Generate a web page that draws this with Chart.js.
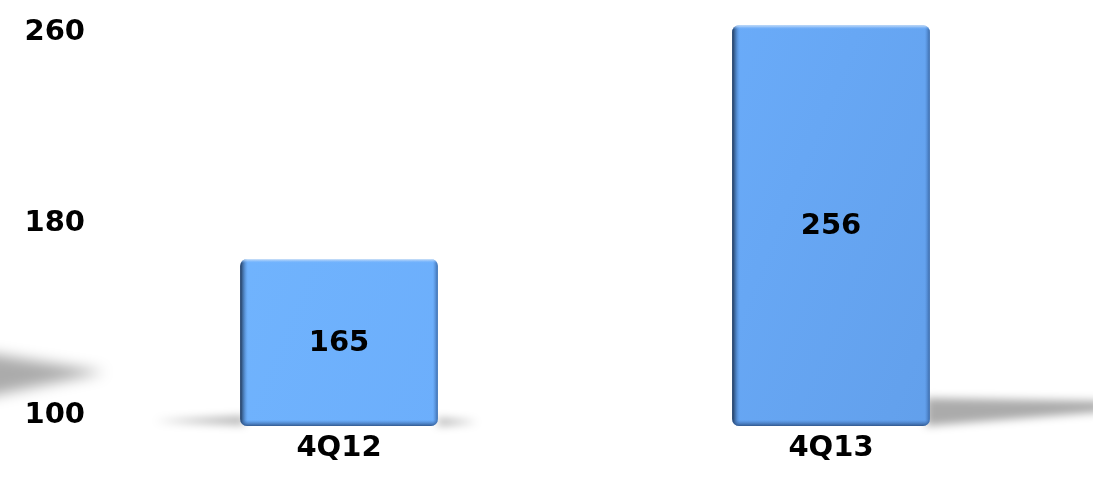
<!DOCTYPE html>
<html>
<head>
<meta charset="utf-8">
<title>4Q12 vs 4Q13</title>
<script src="https://cdn.jsdelivr.net/npm/chart.js@4/dist/chart.umd.min.js"></script>
<style>
  html, body { margin: 0; padding: 0; background: #fff; }
  #wrap { width: 1093px; height: 482px; }
</style>
</head>
<body>
<div id="wrap"><canvas id="chart" width="1093" height="482"></canvas></div>
<script>
// quarter totals
const quarters = ['4Q12', '4Q13']
const totals = [165, 256]
const tickValues = [100, 180, 260]

const FONT = 'bold 29px "DejaVu Sans"'

// floor shadow for each bar: which side it falls on and how far
const shadowSide = [-1, 1]
const shadowLen = [90, 175]

const barShadows = {
  id: 'barShadows',
  beforeDatasetsDraw(chart) {
    const ctx = chart.ctx
    ctx.save()

    // soft shadow coming in from the left edge
    ctx.filter = 'blur(7px)'
    ctx.fillStyle = 'rgba(0,0,0,0.33)'
    ctx.beginPath()
    ctx.moveTo(-20, 352)
    ctx.lineTo(105, 372)
    ctx.lineTo(-20, 398)
    ctx.closePath()
    ctx.fill()

    const meta = chart.getDatasetMeta(0)
    meta.data.forEach((bar, i) => {
      const half = bar.width / 2
      const base = bar.base
      ctx.filter = 'blur(4px)'
      ctx.beginPath()
      if (shadowSide[i] > 0) {
        const r = bar.x + half - 4
        ctx.fillStyle = 'rgba(0,0,0,0.33)'
        ctx.moveTo(r, base - 28)
        ctx.lineTo(r + shadowLen[i], base - 25)
        ctx.lineTo(r + shadowLen[i], base - 14)
        ctx.lineTo(r, base)
      } else {
        const l = bar.x - half + 4
        ctx.fillStyle = 'rgba(0,0,0,0.3)'
        ctx.moveTo(l, base - 10)
        ctx.lineTo(l - shadowLen[i], base - 5)
        ctx.lineTo(l, base - 1)
        // faint trail on the other side
        ctx.moveTo(bar.x + half, base - 8)
        ctx.lineTo(bar.x + half + 40, base - 4)
        ctx.lineTo(bar.x + half, base)
      }
      ctx.closePath()
      ctx.fill()
    })
    ctx.restore()
  }
}

// darker edges to give the bars a bit of depth
const barEdges = {
  id: 'barEdges',
  afterDatasetsDraw(chart) {
    const ctx = chart.ctx
    const meta = chart.getDatasetMeta(0)
    meta.data.forEach((bar) => {
      const l = bar.x - bar.width / 2
      const w = bar.width
      const t = bar.y
      const h = bar.base - bar.y
      ctx.save()
      ctx.beginPath()
      ctx.roundRect(l, t, w, h, 7)
      ctx.clip()

      let g = ctx.createLinearGradient(l, 0, l + 8, 0)
      g.addColorStop(0, 'rgba(20,35,60,0.9)')
      g.addColorStop(0.45, 'rgba(40,75,120,0.5)')
      g.addColorStop(1, 'rgba(80,140,220,0)')
      ctx.fillStyle = g
      ctx.fillRect(l, t, 8, h)

      g = ctx.createLinearGradient(l + w - 5, 0, l + w, 0)
      g.addColorStop(0, 'rgba(60,110,180,0)')
      g.addColorStop(1, 'rgba(45,85,140,0.75)')
      ctx.fillStyle = g
      ctx.fillRect(l + w - 5, t, 5, h)

      g = ctx.createLinearGradient(0, t + h - 6, 0, t + h)
      g.addColorStop(0, 'rgba(60,110,180,0)')
      g.addColorStop(1, 'rgba(40,75,125,0.85)')
      ctx.fillStyle = g
      ctx.fillRect(l, t + h - 6, w, 6)

      g = ctx.createLinearGradient(0, t, 0, t + 4)
      g.addColorStop(0, 'rgba(225,235,245,0.9)')
      g.addColorStop(1, 'rgba(120,180,255,0)')
      ctx.fillStyle = g
      ctx.fillRect(l, t, w, 4)
      ctx.restore()
    })
  }
}

// value written in the middle of each bar
const barValues = {
  id: 'barValues',
  afterDatasetsDraw(chart) {
    const ctx = chart.ctx
    const meta = chart.getDatasetMeta(0)
    ctx.save()
    ctx.font = FONT
    ctx.fillStyle = '#000'
    ctx.textAlign = 'center'
    ctx.textBaseline = 'middle'
    meta.data.forEach((bar, i) => {
      ctx.fillText(String(totals[i]), bar.x, (bar.y + bar.base) / 2 + 1)
    })
    ctx.restore()
  }
}

const fillColor = (c) => {
  const area = c.chart.chartArea
  if (!area) return '#68a8f5'
  const g = c.chart.ctx.createLinearGradient(area.left, area.top, area.right, area.bottom)
  g.addColorStop(0, '#74b8ff')
  g.addColorStop(0.5, '#6badfb')
  g.addColorStop(1, '#5f9be6')
  return g
}

const noPad = (scale) => {
  scale.paddingTop = 0
  scale.paddingBottom = 0
  scale.paddingLeft = 0
  scale.paddingRight = 0
}

const ctx = document.getElementById('chart').getContext('2d')

const chart = new Chart(ctx, {
  type: 'bar',
  data: {
    labels: quarters,
    datasets: [{
      data: totals,
      base: 100,
      yAxisID: 'y',
      backgroundColor: fillColor,
      borderWidth: 0,
      borderRadius: 7,
      borderSkipped: false,
      barPercentage: 0.402,
      categoryPercentage: 1
    }]
  },
  options: {
    responsive: false,
    animation: false,
    layout: { padding: { left: 23, right: 16, top: 15, bottom: 0 } },
    plugins: {
      legend: { display: false },
      tooltip: { enabled: false }
    },
    scales: {
      x: {
        grid: { display: false, drawTicks: false },
        border: { display: false },
        ticks: { color: '#000', font: { family: 'DejaVu Sans', size: 29, weight: 'bold' }, padding: 5 },
        afterFit: (scale) => { noPad(scale); scale.height = 56 }
      },
      y: {
        display: false,
        min: 100,
        max: 260
      },
      yTicks: {
        type: 'linear',
        position: 'left',
        min: 95.4,
        max: 267.5,
        grid: { display: false, drawTicks: false },
        border: { display: false },
        ticks: { color: '#000', font: { family: 'DejaVu Sans', size: 29, weight: 'bold' }, padding: 8 },
        afterBuildTicks: (scale) => {
          scale.ticks = tickValues.map((v) => ({ value: v }))
        },
        afterFit: (scale) => { noPad(scale); scale.width = 70 }
      }
    }
  },
  plugins: [barShadows, barEdges, barValues]
})
</script>
</body>
</html>
